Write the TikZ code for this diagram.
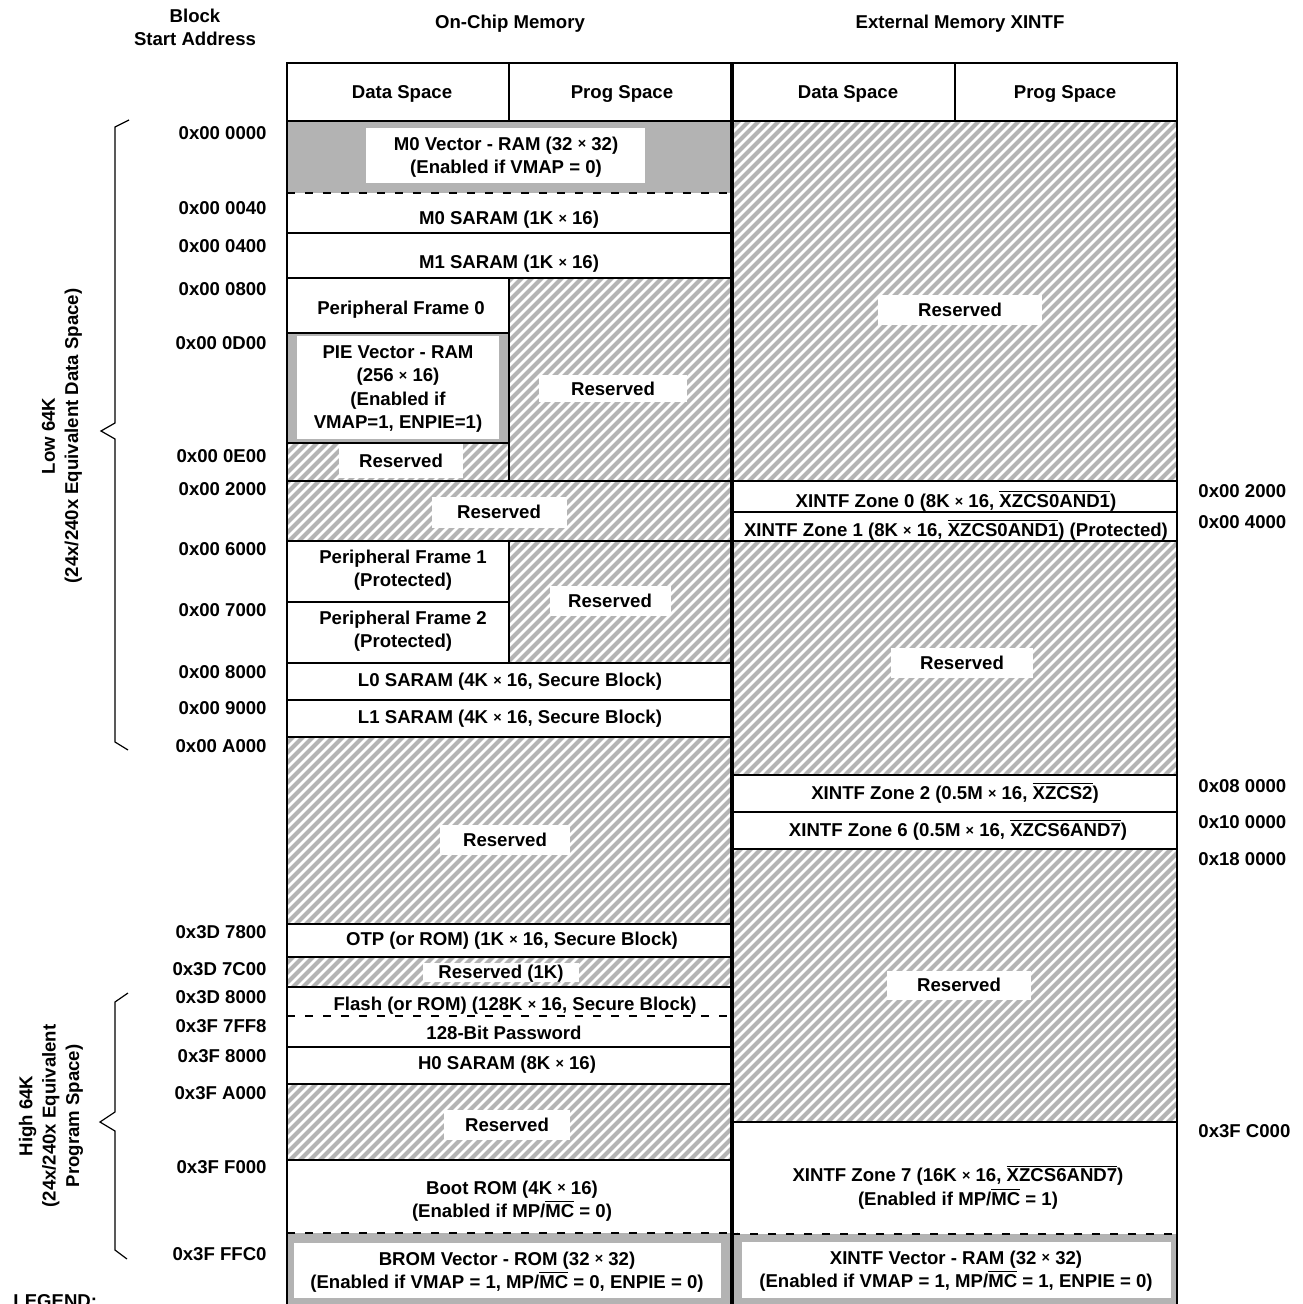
\documentclass[tikz,border=0pt]{standalone}
\usepackage{fontspec}
\setmainfont{Liberation Sans}
\definecolor{graybg}{HTML}{B3B3B3}
\definecolor{hatchgray}{HTML}{B4B4B4}
\newcommand\ovl[1]{$\overline{\mbox{#1}}$}
\newcommand\tms{\raisebox{0.6pt}{\fontsize{7.2}{7.2}\selectfont ×}}
\newcommand\hatchrect[4]{%
  \begin{scope}
    \clip (#1,#2) rectangle (#3,#4);
    \pgfmathtruncatemacro\hsA{floor((#1+#2)/10)}
    \pgfmathtruncatemacro\hsB{ceil((#3+#4)/10)}
    \foreach \k in {\hsA,...,\hsB}{
      \draw[hatchline] ({\k*10-#2+10},{#2-10}) -- ({\k*10-#4-10},{#4+10});
    }
  \end{scope}}
\tikzset{
  txt/.style={font=\bfseries\fontsize{9.3}{11.7}\selectfont, align=center, inner sep=0pt, text depth=0pt},
  addrL/.style={txt, anchor=east},
  addrR/.style={txt, anchor=west},
  frame/.style={line width=1.4pt},
  sepline/.style={line width=1pt},
  dsep/.style={line width=0.6pt, dash pattern=on 4pt off 5pt},
  hatchline/.style={draw=hatchgray, line width=2.1pt},
  lab/.style={txt, fill=white},
  whitebox/.style={fill=white},
  bracestyle/.style={line width=0.6pt},
}
\begin{document}
\begin{tikzpicture}[x=0.5pt, y=-0.5pt]
\useasboundingbox (0,0) rectangle (1302,1304);
\clip (0,0) rectangle (1302,1304);
\fill[white] (0,0) rectangle (1302,1304);

% ---------- gray vector cells ----------
\fill[graybg] (287,121) rectangle (732,193);
\fill[whitebox] (366,128) rectangle (645,183);
\fill[graybg] (287,333) rectangle (509,443);
\fill[whitebox] (297,336) rectangle (499,439);
\fill[graybg] (287,1233) rectangle (732,1330);
\fill[whitebox] (294,1243) rectangle (721,1298);
\fill[graybg] (732,1234) rectangle (1177,1330);
\fill[whitebox] (742,1242) rectangle (1171,1298);

% ---------- hatched reserved areas ----------
\hatchrect{509}{278}{732}{481}
\hatchrect{287}{443}{509}{481}
\hatchrect{287}{481}{732}{541}
\hatchrect{509}{541}{732}{663}
\hatchrect{287}{737}{732}{924}
\hatchrect{287}{957}{732}{987}
\hatchrect{287}{1084}{732}{1160}
\hatchrect{732}{121}{1177}{481}
\hatchrect{732}{541}{1177}{775}
\hatchrect{732}{849}{1177}{1122}

% ---------- reserved labels ----------
\node[lab, minimum width=74pt, minimum height=13.5pt] (r1) at (613,389) {Reserved};
\node[lab, minimum width=62pt, minimum height=17pt] (r2) at (401,461) {Reserved};
\node[lab, minimum width=67.5pt, minimum height=15.5pt] (r3) at (499,512) {Reserved};
\node[lab, minimum width=60.5pt, minimum height=15pt] (r4) at (610,601) {Reserved};
\node[lab, minimum width=65pt, minimum height=15pt] (r5) at (505,840) {Reserved};
\node[lab, minimum width=78pt, minimum height=9.5pt] (r6) at (501,972) {Reserved (1K)};
\node[lab, minimum width=63pt, minimum height=15pt] (r7) at (507,1125) {Reserved};
\node[lab, minimum width=82pt, minimum height=15pt] (r8) at (960,310) {Reserved};
\node[lab, minimum width=71pt, minimum height=15pt] (r9) at (962,663) {Reserved};
\node[lab, minimum width=72pt, minimum height=14.5pt] (r10) at (959,985) {Reserved};

% ---------- separator lines, left column ----------
\draw[sepline] (287,121) -- (1177,121);
\draw[sepline] (509,63) -- (509,121);
\draw[sepline] (955,63) -- (955,121);
\draw[dsep] (287,193) -- (732,193);
\draw[sepline] (287,233) -- (732,233);
\draw[sepline] (287,278) -- (732,278);
\draw[sepline] (287,333) -- (509,333);
\draw[sepline] (287,443) -- (509,443);
\draw[sepline] (509,278) -- (509,481);
\draw[sepline] (287,481) -- (732,481);
\draw[sepline] (287,541) -- (732,541);
\draw[sepline] (287,602) -- (509,602);
\draw[sepline] (509,541) -- (509,663);
\draw[sepline] (287,663) -- (732,663);
\draw[sepline] (287,700) -- (732,700);
\draw[sepline] (287,737) -- (732,737);
\draw[sepline] (287,924) -- (732,924);
\draw[sepline] (287,957) -- (732,957);
\draw[sepline] (287,987) -- (732,987);
\draw[dsep] (287,1016) -- (732,1016);
\draw[sepline] (287,1047) -- (732,1047);
\draw[sepline] (287,1084) -- (732,1084);
\draw[sepline] (287,1160) -- (732,1160);
\draw[dsep] (287,1233) -- (737,1233);

% ---------- separator lines, right column ----------
\draw[sepline] (732,481) -- (1177,481);
\draw[sepline] (732,512) -- (1177,512);
\draw[sepline] (732,541) -- (1177,541);
\draw[sepline] (732,775) -- (1177,775);
\draw[sepline] (732,812) -- (1177,812);
\draw[sepline] (732,849) -- (1177,849);
\draw[sepline] (732,1122) -- (1177,1122);
\draw[dsep] (732,1234) -- (1177,1234);

% ---------- outer frame ----------
\draw[frame] (287,1330) -- (287,63) -- (1177,63) -- (1177,1330);
\draw[line width=2pt] (732,63) -- (732,1330);

% ---------- headings ----------
\node[txt] (hblock) at (195,27) {Block\\Start Address};
\node[txt] (hon) at (510,22) {On-Chip Memory};
\node[txt] (hext) at (960,22) {External Memory XINTF};
\node[txt] (hd1) at (402,92) {Data Space};
\node[txt] (hp1) at (622,92) {Prog Space};
\node[txt] (hd2) at (848,92) {Data Space};
\node[txt] (hp2) at (1065,92) {Prog Space};

% ---------- on-chip blocks ----------
\node[txt] (m0v) at (506,155) {M0 Vector - RAM (32 \tms{} 32)\\(Enabled if VMAP = 0)};
\node[txt] (m0) at (509,218) {M0 SARAM (1K \tms{} 16)};
\node[txt] (m1) at (509,262) {M1 SARAM (1K \tms{} 16)};
\node[txt] (pf0) at (401,308) {Peripheral Frame 0};
\node[txt] (pie) at (398,387) {PIE Vector - RAM\\(256 \tms{} 16)\\(Enabled if\\VMAP=1, ENPIE=1)};
\node[txt] (pf1) at (403,568) {Peripheral Frame 1\\(Protected)};
\node[txt] (pf2) at (403,629) {Peripheral Frame 2\\(Protected)};
\node[txt] (l0) at (510,680) {L0 SARAM (4K \tms{} 16, Secure Block)};
\node[txt] (l1) at (510,717) {L1 SARAM (4K \tms{} 16, Secure Block)};
\node[txt] (otp) at (512,939) {OTP (or ROM) (1K \tms{} 16, Secure Block)};
\node[txt] (flash) at (515,1004) {Flash (or ROM) (128K \tms{} 16, Secure Block)};
\node[txt] (pw) at (504,1033) {128-Bit Password};
\node[txt] (h0) at (507,1063) {H0 SARAM (8K \tms{} 16)};
\node[txt] (boot) at (512,1199) {Boot ROM (4K \tms{} 16)\\(Enabled if MP/\ovl{MC} = 0)};
\node[txt] (brom) at (507,1270) {BROM Vector - ROM (32 \tms{} 32)\\(Enabled if VMAP = 1, MP/\ovl{MC} = 0, ENPIE = 0)};

% ---------- external blocks ----------
\node[txt] (z0) at (956,499) {XINTF Zone 0 (8K \tms{} 16, \ovl{XZCS0AND1})};
\node[txt] (z1) at (956,528) {XINTF Zone 1 (8K \tms{} 16, \ovl{XZCS0AND1}) (Protected)};
\node[txt] (z2) at (955,791) {XINTF Zone 2 (0.5M \tms{} 16, \ovl{XZCS2})};
\node[txt] (z6) at (958,828) {XINTF Zone 6 (0.5M \tms{} 16, \ovl{XZCS6AND7})};
\node[txt] (z7) at (958,1185) {XINTF Zone 7 (16K \tms{} 16, \ovl{XZCS6AND7})\\(Enabled if MP/\ovl{MC} = 1)};
\node[txt] (xv) at (956,1269) {XINTF Vector - RAM (32 \tms{} 32)\\(Enabled if VMAP = 1, MP/\ovl{MC} = 1, ENPIE = 0)};

% ---------- left addresses ----------
\node[addrL] (a01) at (267,133) {0x00 0000};
\node[addrL] (a02) at (267,208) {0x00 0040};
\node[addrL] (a03) at (267,246) {0x00 0400};
\node[addrL] (a04) at (267,289) {0x00 0800};
\node[addrL] (a05) at (267,343) {0x00 0D00};
\node[addrL] (a06) at (267,456) {0x00 0E00};
\node[addrL] (a07) at (267,489) {0x00 2000};
\node[addrL] (a08) at (267,549) {0x00 6000};
\node[addrL] (a09) at (267,610) {0x00 7000};
\node[addrL] (a10) at (267,672) {0x00 8000};
\node[addrL] (a11) at (267,708) {0x00 9000};
\node[addrL] (a12) at (267,746) {0x00 A000};
\node[addrL] (a13) at (267,932) {0x3D 7800};
\node[addrL] (a14) at (267,969) {0x3D 7C00};
\node[addrL] (a15) at (267,997) {0x3D 8000};
\node[addrL] (a16) at (267,1026) {0x3F 7FF8};
\node[addrL] (a17) at (267,1056) {0x3F 8000};
\node[addrL] (a18) at (267,1093) {0x3F A000};
\node[addrL] (a19) at (267,1167) {0x3F F000};
\node[addrL] (a20) at (267,1254) {0x3F FFC0};

% ---------- right addresses ----------
\node[addrR] (b1) at (1198,491) {0x00 2000};
\node[addrR] (b2) at (1198,522) {0x00 4000};
\node[addrR] (b3) at (1198,786) {0x08 0000};
\node[addrR] (b4) at (1198,822) {0x10 0000};
\node[addrR] (b5) at (1198,859) {0x18 0000};
\node[addrR] (b6) at (1198,1131) {0x3F C000};

% ---------- braces ----------
\coordinate (lbA) at (129,120);
\coordinate (lbB) at (115,127);
\coordinate (lbC) at (115,423);
\coordinate (lbP) at (101,431);
\coordinate (lbD) at (115,439);
\coordinate (lbE) at (115,742);
\coordinate (lbF) at (128,750);
\draw[bracestyle] (lbA) -- (lbB) -- (lbC) -- (lbP) -- (lbD) -- (lbE) -- (lbF);
\coordinate (hbA) at (128,993);
\coordinate (hbB) at (115,1002);
\coordinate (hbC) at (115,1112);
\coordinate (hbP) at (100,1122);
\coordinate (hbD) at (115,1131);
\coordinate (hbE) at (115,1250);
\coordinate (hbF) at (127,1259);
\draw[bracestyle] (hbA) -- (hbB) -- (hbC) -- (hbP) -- (hbD) -- (hbE) -- (hbF);

\node[txt, rotate=90] (low) at (60,436) {Low 64K\\(24x/240x Equivalent Data Space)};
\node[txt, rotate=90] (high) at (49,1116) {High 64K\\(24x/240x Equivalent\\Program Space)};

\node[txt, anchor=west] (legend) at (13,1301) {LEGEND:};
\end{tikzpicture}
\end{document}
